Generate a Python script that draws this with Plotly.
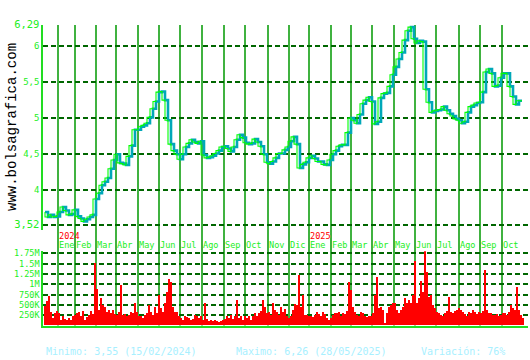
import plotly.graph_objects as go

# ---------------- data ----------------
# trading-day index of first session of each month (day 0 = first session shown)
month_idx = [13, 30, 51, 71, 93, 114, 135, 157, 179, 200, 223, 244,
             264, 286, 306, 327, 349, 370, 391, 414, 435, 457]
month_lbl = ["Ene", "Feb", "Mar", "Abr", "May", "Jun", "Jul", "Ago", "Sep", "Oct", "Nov", "Dic",
             "Ene", "Feb", "Mar", "Abr", "May", "Jun", "Jul", "Ago", "Sep", "Oct"]
year_pos = [0, 12]          # indices in month_idx where a new year starts
year_lbl = ["2024", "2025"]

# closing price, one sample every 3 sessions
price = [3.70, 3.63, 3.66, 3.63, 3.64, 3.70, 3.77, 3.72, 3.66, 3.67,
         3.73, 3.64, 3.61, 3.57, 3.60, 3.63, 3.66, 3.88, 3.96, 4.07,
         4.12, 4.17, 4.30, 4.42, 4.50, 4.38, 4.37, 4.35, 4.47, 4.62,
         4.84, 4.84, 4.88, 4.90, 4.93, 5.01, 5.13, 5.23, 5.36, 5.37,
         5.25, 4.97, 4.64, 4.55, 4.50, 4.43, 4.50, 4.60, 4.65, 4.70,
         4.67, 4.65, 4.68, 4.49, 4.45, 4.46, 4.48, 4.51, 4.55, 4.60,
         4.61, 4.58, 4.54, 4.60, 4.70, 4.77, 4.73, 4.66, 4.64, 4.65,
         4.71, 4.67, 4.61, 4.50, 4.39, 4.37, 4.40, 4.45, 4.51, 4.51,
         4.56, 4.60, 4.68, 4.74, 4.64, 4.31, 4.36, 4.39, 4.45, 4.48,
         4.44, 4.40, 4.40, 4.36, 4.35, 4.42, 4.50, 4.55, 4.61, 4.63,
         4.63, 4.80, 5.00, 4.97, 4.93, 5.05, 5.20, 5.25, 5.29, 5.23,
         4.92, 4.95, 5.28, 5.34, 5.35, 5.44, 5.60, 5.71, 5.82, 5.91,
         6.08, 6.21, 6.26, 6.10, 6.04, 6.07, 6.06, 5.40, 5.22, 5.08,
         5.10, 5.11, 5.12, 5.16, 5.11, 5.06, 5.03, 4.99, 4.97, 4.93,
         4.95, 5.08, 5.16, 5.18, 5.21, 5.22, 5.36, 5.64, 5.68, 5.62,
         5.44, 5.45, 5.56, 5.62, 5.62, 5.44, 5.30, 5.19, 5.24, 5.24]
price_step = 3

# volume in thousands of shares, one sample every 2 sessions
volume_k = [470, 580, 700, 330, 175, 290, 350, 290, 135, 215,
            160, 135, 175, 135, 215, 250, 290, 330, 215, 350,
            135, 190, 250, 350, 270, 1500, 885, 370, 650, 490,
            430, 330, 370, 290, 370, 270, 250, 330, 980, 250,
            270, 215, 250, 330, 290, 530, 330, 215, 215, 175,
            250, 290, 490, 330, 250, 450, 290, 740, 410, 330,
            550, 800, 1110, 1050, 450, 330, 330, 215, 175, 135,
            235, 190, 175, 135, 160, 250, 215, 175, 215, 135,
            530, 160, 95, 125, 95, 125, 95, 80, 110, 135,
            160, 215, 175, 250, 160, 235, 610, 175, 215, 135,
            235, 175, 215, 135, 235, 290, 215, 290, 350, 610,
            430, 290, 330, 250, 530, 370, 330, 250, 450, 330,
            395, 215, 175, 215, 370, 505, 490, 1215, 450, 730,
            250, 250, 235, 215, 190, 250, 330, 270, 215, 330,
            270, 175, 135, 175, 250, 290, 290, 330, 215, 290,
            270, 350, 1040, 845, 450, 330, 250, 215, 330, 290,
            235, 190, 215, 235, 290, 730, 1180, 410, 450, 370,
            60, 290, 430, 490, 550, 530, 370, 290, 370, 450,
            650, 530, 610, 530, 730, 1560, 530, 650, 1080, 800,
            1790, 1300, 690, 730, 490, 410, 330, 290, 250, 235,
            290, 350, 690, 330, 290, 350, 370, 410, 370, 330,
            270, 235, 330, 290, 370, 330, 270, 330, 290, 350,
            1340, 370, 290, 290, 250, 250, 270, 235, 250, 290,
            290, 250, 330, 490, 410, 370, 925, 370, 250, 175]
volume_step = 2

price_ticks = [3.52, 4, 4.5, 5, 5.5, 6, 6.29]
price_ticktext = ["3,52", "4", "4,5", "5", "5,5", "6", "6,29"]
vol_ticks = [250e3, 500e3, 750e3, 1e6, 1.25e6, 1.5e6, 1.75e6]
vol_ticktext = ["250K", "500K", "750K", "1M", "1.25M", "1.5M", "1.75M"]

footer = ["Minimo: 3,55 (15/02/2024)", "Maximo: 6,26 (28/05/2025)", "Variación: 76%"]

# ---------------- figure ----------------
W, H = 530, 360
px_x = lambda p: p / W
px_y = lambda p: 1 - p / H

price_x = [i * price_step for i in range(len(price))]
vol_x = [i * volume_step for i in range(len(volume_k))]
vol = [v * 1000 for v in volume_k]

MONO = "DejaVu Sans Mono"
LIME = "#22ee22"
fig = go.Figure()

fig.add_trace(go.Scatter(x=price_x, y=price, mode="lines", xaxis="x", yaxis="y",
                         line=dict(color="#00a8b8", width=2.6, shape="hv"), hoverinfo="skip"))
fig.add_trace(go.Scatter(x=price_x, y=price, mode="lines", xaxis="x", yaxis="y",
                         line=dict(color="#00ff00", width=1.1, shape="vh"), hoverinfo="skip"))
fig.add_trace(go.Bar(x=vol_x, y=vol, xaxis="x2", yaxis="y2", width=volume_step,
                     marker=dict(color="#ff0000", line=dict(width=0)), hoverinfo="skip"))

price_top, price_bot = 25, 230
vol_top, vol_bot = 251.3, 325.5
xrange = [-2, 483]
xdom = [px_x(43), px_x(528)]

price_ticktext_html = []
for v, t in zip(price_ticks, price_ticktext):
    if v in (price_ticks[0], price_ticks[-1]):
        price_ticktext_html.append('<span style="font-size:10.5px">%s</span>' % t)
    else:
        price_ticktext_html.append(t)

grid = dict(gridcolor="#006600", gridwidth=1.5, griddash="5px,3px", showgrid=True)

fig.update_layout(
    width=W, height=H, margin=dict(l=0, r=0, t=0, b=0, autoexpand=False),
    paper_bgcolor="white", plot_bgcolor="white", showlegend=False, bargap=0,
    xaxis=dict(domain=xdom, range=xrange, showgrid=False, zeroline=False,
               showticklabels=False, ticks="", anchor="y", automargin=False),
    xaxis2=dict(domain=xdom, range=xrange, showgrid=False, zeroline=False,
                showticklabels=False, ticks="", anchor="y2", automargin=False,
                showline=True, linecolor="#22dd22", linewidth=2),
    yaxis=dict(domain=[px_y(price_bot), px_y(price_top)],
               range=[price_ticks[0] - 5 / 72.2, price_ticks[-1]],
               tickvals=price_ticks, ticktext=price_ticktext_html, ticks="",
               tickfont=dict(family=MONO, size=9, color=LIME), automargin=False,
               showline=True, linecolor="#22dd22", linewidth=1.5, zeroline=False,
               anchor="x", **grid),
    yaxis2=dict(domain=[px_y(vol_bot), px_y(vol_top)], range=[0, 1.8e6],
                tickvals=vol_ticks, ticktext=vol_ticktext, ticks="",
                tickfont=dict(family=MONO, size=8.5, color=LIME), automargin=False,
                showline=True, linecolor="#22dd22", linewidth=1.5, zeroline=False,
                anchor="x2", **grid),
)

# vertical month lines spanning both panels
shapes = []
for m in month_idx:
    shapes.append(dict(type="line", xref="x", yref="paper", x0=m, x1=m,
                       y0=px_y(vol_bot), y1=px_y(price_top),
                       line=dict(color="#009900", width=1.5), layer="below"))
fig.update_layout(shapes=shapes)

ann = []
for m, lbl in zip(month_idx, month_lbl):
    ann.append(dict(x=m, y=px_y(244.5), xref="x", yref="paper", text=lbl,
                    showarrow=False, xanchor="left", yanchor="middle", borderpad=0,
                    font=dict(family=MONO, size=8.6, color=LIME)))
for k, lbl in zip(year_pos, year_lbl):
    ann.append(dict(x=month_idx[k], y=px_y(235.5), xref="x", yref="paper", text=lbl,
                    showarrow=False, xanchor="left", yanchor="middle", borderpad=0,
                    font=dict(family=MONO, size=8.6, color="#ff0000")))
ann.append(dict(x=px_x(12), y=px_y(127), xref="paper", yref="paper",
                text="www.bolsagrafica.com", textangle=-90,
                showarrow=False, xanchor="center", yanchor="middle",
                font=dict(family="Liberation Mono", size=14, color="#000000")))
for xpos, txt in zip([44, 234, 419], footer):
    ann.append(dict(x=px_x(xpos), y=px_y(351), xref="paper", yref="paper", text=txt,
                    showarrow=False, xanchor="left", yanchor="middle",
                    font=dict(family=MONO, size=10, color="#a8f0ff")))
fig.update_layout(annotations=ann)

fig.write_html("out.html")
